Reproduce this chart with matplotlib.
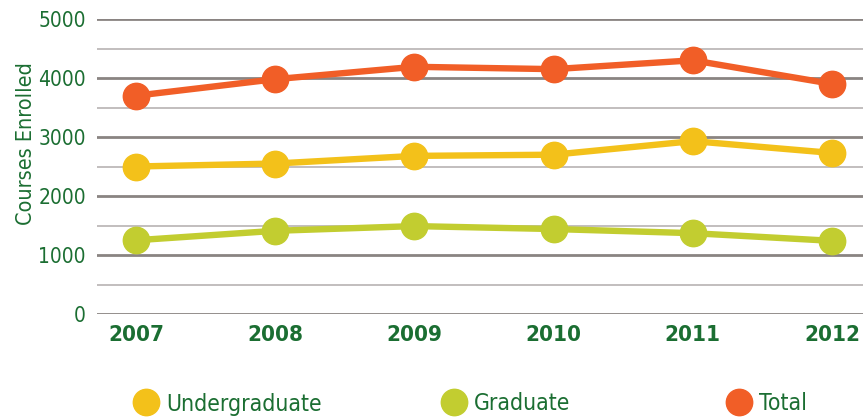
import matplotlib
matplotlib.use("Agg")
import matplotlib.pyplot as plt
from matplotlib.lines import Line2D

years = [2007, 2008, 2009, 2010, 2011, 2012]
undergraduate = [2500, 2550, 2680, 2700, 2930, 2730]
graduate = [1250, 1410, 1490, 1440, 1370, 1240]
total = [3700, 3980, 4190, 4150, 4300, 3900]
y_ticks = [0, 1000, 2000, 3000, 4000, 5000]

C_UG = "#F3C11A"
C_GR = "#C2CD30"
C_TOT = "#F15E27"
C_TXT = "#1B6E32"

plt.rcParams['font.family'] = ['DejaVu Sans']
plt.rcParams['font.stretch'] = 'condensed'

fig = plt.figure(figsize=(8.63, 4.17), dpi=100)
ax = fig.add_axes([97/863, 1-314/417, 1-97/863, (314-19)/417])

for v in range(0, 5001, 500):
    if v % 1000 == 0:
        ax.axhline(v, color="#8a8482", lw=2.0, zorder=1)
    else:
        ax.axhline(v, color="#b8b3b3", lw=1.2, zorder=1)

ms = 19
lw = 4.6
ax.plot(years, undergraduate, color=C_UG, lw=lw, marker='o', ms=ms, zorder=3)
ax.plot(years, graduate, color=C_GR, lw=lw, marker='o', ms=ms, zorder=3)
ax.plot(years, total, color=C_TOT, lw=lw, marker='o', ms=ms, zorder=3)

ax.set_xlim(2007 - 39/139.2, 2012 + 31/139.2)
ax.set_ylim(0, 5000)
ax.set_yticks(y_ticks)
ax.set_yticklabels([str(v) for v in y_ticks], color=C_TXT, fontsize=15, fontstretch='condensed')
ax.set_xticks(years)
ax.set_xticklabels([str(y) for y in years], color=C_TXT, fontsize=16, fontweight='bold', fontstretch='condensed')
ax.tick_params(axis='both', length=0)
ax.tick_params(axis='y', pad=8)
ax.tick_params(axis='x', pad=8)
for s in ax.spines.values():
    s.set_visible(False)
ax.set_ylabel("Courses Enrolled", color=C_TXT, fontsize=15.5, fontstretch='condensed')
ax.yaxis.set_label_coords(-0.080, 0.578)

entries = [("Undergraduate", C_UG, 147), ("Graduate", C_GR, 455), ("Total", C_TOT, 740)]
for name, col, xp in entries:
    h = Line2D([], [], color=col, marker='o', ms=19, lw=0)
    leg = fig.legend([h], [name], loc='center left',
                     bbox_to_anchor=((xp - 11)/863, 1 - 404/417),
                     frameon=False, fontsize=16.5, handlelength=0.9,
                     handletextpad=0.4, borderpad=0, borderaxespad=0)
    for t in leg.get_texts():
        t.set_color(C_TXT)
        t.set_fontstretch('condensed')

fig.savefig("out.png", dpi=100)
